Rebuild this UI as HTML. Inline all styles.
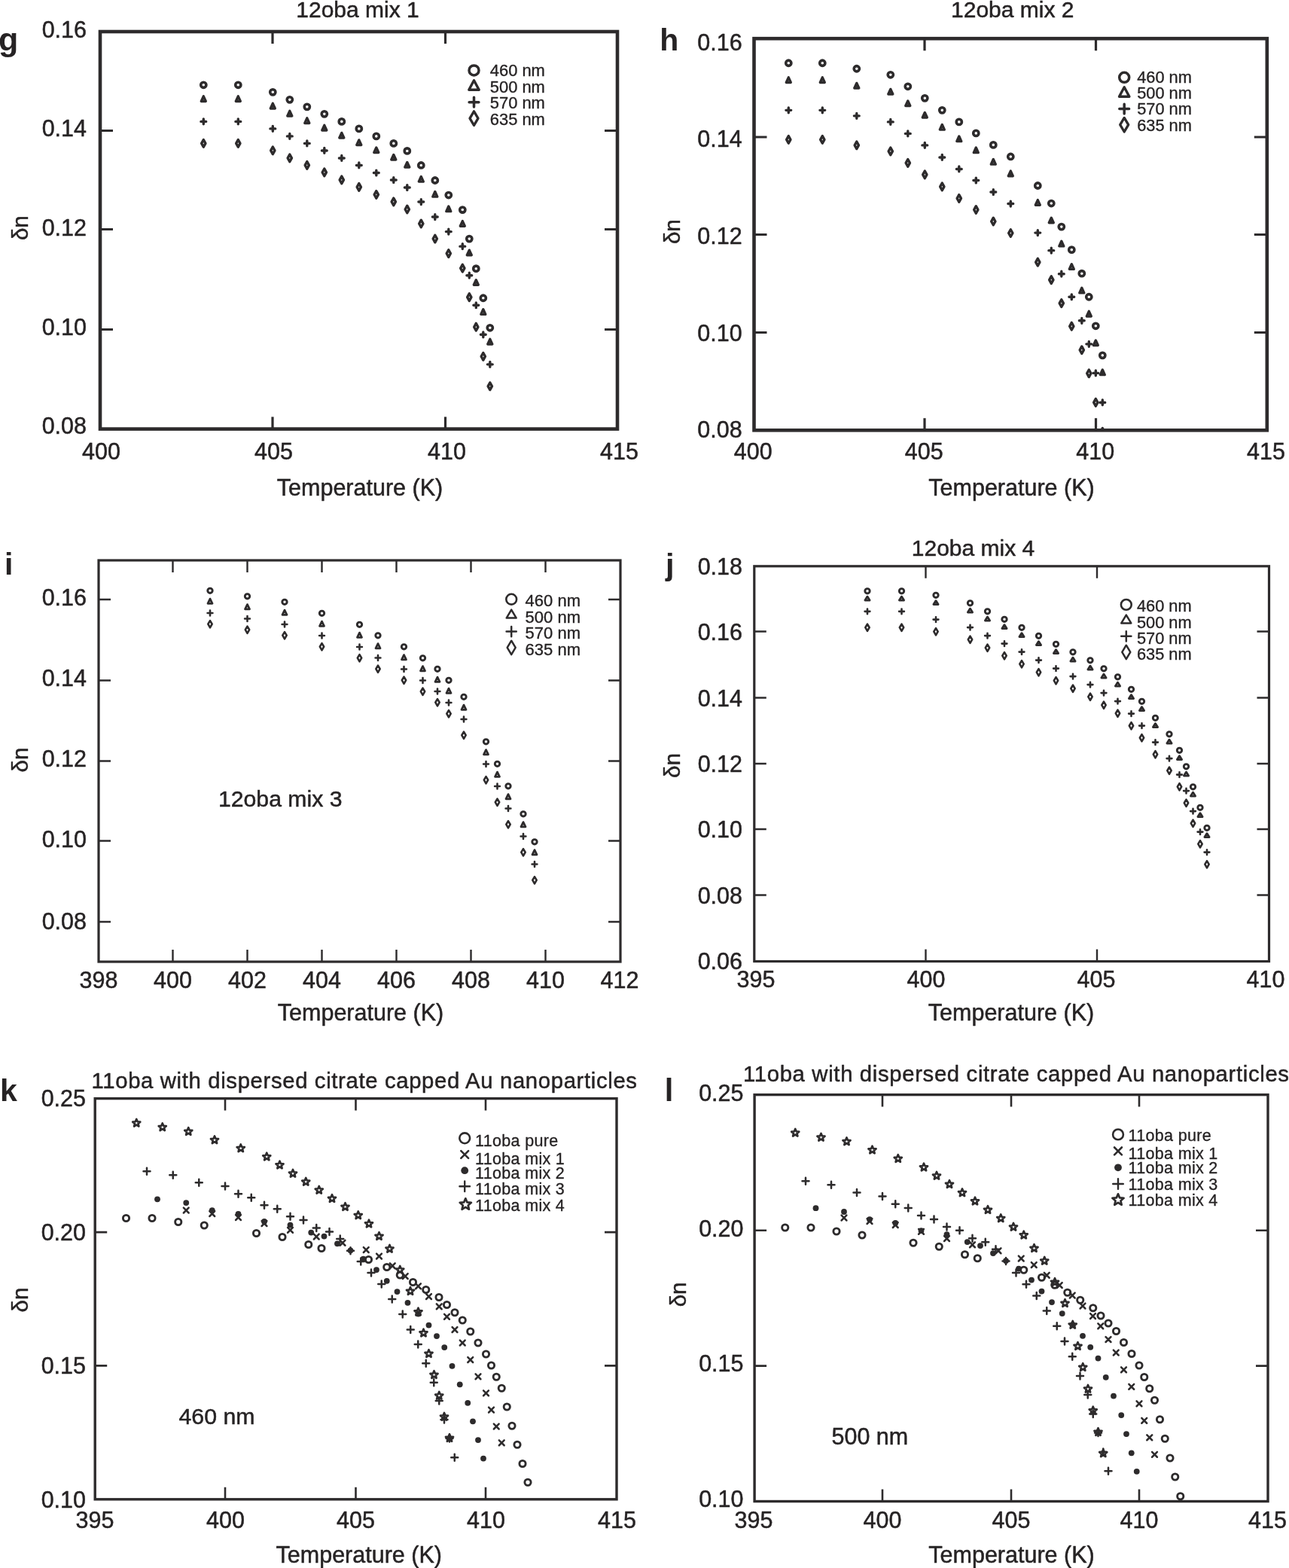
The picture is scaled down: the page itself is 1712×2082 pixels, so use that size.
<!DOCTYPE html>
<html><head><meta charset="utf-8"><title>figure</title>
<style>
html,body{margin:0;padding:0;background:#fff;overflow:hidden;}
svg{display:block;filter:blur(0.45px);}
text{font-family:"Liberation Sans",sans-serif;fill:#262324;stroke:#262324;stroke-width:0;stroke-linejoin:round;}
</style></head>
<body>
<svg width="1712" height="2082" viewBox="0 0 1712 2082">
<rect width="1712" height="2082" fill="#fff"/>
<g fill="none" stroke="#2d2b2c" stroke-linejoin="round" stroke-linecap="round">
<clipPath id="cg"><rect x="133" y="42" width="687" height="527.6"/></clipPath>
<g clip-path="url(#cg)">
<circle cx="270.30" cy="112.80" r="3.6" stroke-width="3.6"/>
<path d="M267.30 134.43L270.30 127.83L273.30 134.43Z" stroke-width="3.4"/>
<path d="M266.90 161.38H273.70M270.30 157.98V164.78" stroke-width="3.4"/>
<path d="M270.30 185.52L272.95 190.32L270.30 195.12L267.65 190.32Z" stroke-width="3.4"/>
<circle cx="316.30" cy="112.80" r="3.6" stroke-width="3.6"/>
<path d="M313.30 134.43L316.30 127.83L319.30 134.43Z" stroke-width="3.4"/>
<path d="M312.90 161.38H319.70M316.30 157.98V164.78" stroke-width="3.4"/>
<path d="M316.30 185.52L318.95 190.32L316.30 195.12L313.65 190.32Z" stroke-width="3.4"/>
<circle cx="362.30" cy="122.31" r="3.6" stroke-width="3.6"/>
<path d="M359.30 143.94L362.30 137.34L365.30 143.94Z" stroke-width="3.4"/>
<path d="M358.90 170.89H365.70M362.30 167.49V174.29" stroke-width="3.4"/>
<path d="M362.30 195.03L364.95 199.83L362.30 204.63L359.65 199.83Z" stroke-width="3.4"/>
<circle cx="384.80" cy="132.33" r="3.6" stroke-width="3.6"/>
<path d="M381.80 153.96L384.80 147.36L387.80 153.96Z" stroke-width="3.4"/>
<path d="M381.40 180.91H388.20M384.80 177.51V184.31" stroke-width="3.4"/>
<path d="M384.80 205.05L387.45 209.85L384.80 214.65L382.15 209.85Z" stroke-width="3.4"/>
<circle cx="407.80" cy="141.84" r="3.6" stroke-width="3.6"/>
<path d="M404.80 163.47L407.80 156.87L410.80 163.47Z" stroke-width="3.4"/>
<path d="M404.40 190.42H411.20M407.80 187.02V193.82" stroke-width="3.4"/>
<path d="M407.80 214.57L410.45 219.37L407.80 224.17L405.15 219.37Z" stroke-width="3.4"/>
<circle cx="430.80" cy="151.36" r="3.6" stroke-width="3.6"/>
<path d="M427.80 172.99L430.80 166.39L433.80 172.99Z" stroke-width="3.4"/>
<path d="M427.40 199.93H434.20M430.80 196.53V203.33" stroke-width="3.4"/>
<path d="M430.80 224.08L433.45 228.88L430.80 233.68L428.15 228.88Z" stroke-width="3.4"/>
<circle cx="453.80" cy="161.38" r="3.6" stroke-width="3.6"/>
<path d="M450.80 183.00L453.80 176.40L456.80 183.00Z" stroke-width="3.4"/>
<path d="M450.40 209.95H457.20M453.80 206.55V213.35" stroke-width="3.4"/>
<path d="M453.80 234.10L456.45 238.90L453.80 243.70L451.15 238.90Z" stroke-width="3.4"/>
<circle cx="476.80" cy="170.89" r="3.6" stroke-width="3.6"/>
<path d="M473.80 192.52L476.80 185.92L479.80 192.52Z" stroke-width="3.4"/>
<path d="M473.40 219.47H480.20M476.80 216.07V222.87" stroke-width="3.4"/>
<path d="M476.80 243.61L479.45 248.41L476.80 253.21L474.15 248.41Z" stroke-width="3.4"/>
<circle cx="499.80" cy="180.91" r="3.6" stroke-width="3.6"/>
<path d="M496.80 202.53L499.80 195.93L502.80 202.53Z" stroke-width="3.4"/>
<path d="M496.40 229.48H503.20M499.80 226.08V232.88" stroke-width="3.4"/>
<path d="M499.80 253.63L502.45 258.43L499.80 263.23L497.15 258.43Z" stroke-width="3.4"/>
<circle cx="522.80" cy="190.42" r="3.6" stroke-width="3.6"/>
<path d="M519.80 212.05L522.80 205.45L525.80 212.05Z" stroke-width="3.4"/>
<path d="M519.40 239.00H526.20M522.80 235.60V242.40" stroke-width="3.4"/>
<path d="M522.80 263.14L525.45 267.94L522.80 272.74L520.15 267.94Z" stroke-width="3.4"/>
<circle cx="540.80" cy="200.44" r="3.6" stroke-width="3.6"/>
<path d="M537.80 222.07L540.80 215.47L543.80 222.07Z" stroke-width="3.4"/>
<path d="M537.40 249.01H544.20M540.80 245.61V252.41" stroke-width="3.4"/>
<path d="M540.80 273.16L543.45 277.96L540.80 282.76L538.15 277.96Z" stroke-width="3.4"/>
<circle cx="559.30" cy="219.47" r="3.6" stroke-width="3.6"/>
<path d="M556.30 241.09L559.30 234.49L562.30 241.09Z" stroke-width="3.4"/>
<path d="M555.90 268.04H562.70M559.30 264.64V271.44" stroke-width="3.4"/>
<path d="M559.30 292.19L561.95 296.99L559.30 301.79L556.65 296.99Z" stroke-width="3.4"/>
<circle cx="577.80" cy="239.50" r="3.6" stroke-width="3.6"/>
<path d="M574.80 261.13L577.80 254.53L580.80 261.13Z" stroke-width="3.4"/>
<path d="M574.40 288.07H581.20M577.80 284.67V291.47" stroke-width="3.4"/>
<path d="M577.80 312.22L580.45 317.02L577.80 321.82L575.15 317.02Z" stroke-width="3.4"/>
<circle cx="595.80" cy="259.03" r="3.6" stroke-width="3.6"/>
<path d="M592.80 280.66L595.80 274.06L598.80 280.66Z" stroke-width="3.4"/>
<path d="M592.40 307.60H599.20M595.80 304.20V311.00" stroke-width="3.4"/>
<path d="M595.80 331.75L598.45 336.55L595.80 341.35L593.15 336.55Z" stroke-width="3.4"/>
<circle cx="614.30" cy="278.56" r="3.6" stroke-width="3.6"/>
<path d="M611.30 300.19L614.30 293.59L617.30 300.19Z" stroke-width="3.4"/>
<path d="M610.90 327.13H617.70M614.30 323.73V330.53" stroke-width="3.4"/>
<path d="M614.30 351.28L616.95 356.08L614.30 360.88L611.65 356.08Z" stroke-width="3.4"/>
<circle cx="623.30" cy="317.12" r="3.6" stroke-width="3.6"/>
<path d="M620.30 338.75L623.30 332.15L626.30 338.75Z" stroke-width="3.4"/>
<path d="M619.90 365.69H626.70M623.30 362.29V369.09" stroke-width="3.4"/>
<path d="M623.30 389.84L625.95 394.64L623.30 399.44L620.65 394.64Z" stroke-width="3.4"/>
<circle cx="632.30" cy="356.68" r="3.6" stroke-width="3.6"/>
<path d="M629.30 378.31L632.30 371.71L635.30 378.31Z" stroke-width="3.4"/>
<path d="M628.90 405.25H635.70M632.30 401.85V408.65" stroke-width="3.4"/>
<path d="M632.30 429.40L634.95 434.20L632.30 439.00L629.65 434.20Z" stroke-width="3.4"/>
<circle cx="641.80" cy="395.74" r="3.6" stroke-width="3.6"/>
<path d="M638.80 417.37L641.80 410.77L644.80 417.37Z" stroke-width="3.4"/>
<path d="M638.40 444.31H645.20M641.80 440.91V447.71" stroke-width="3.4"/>
<path d="M641.80 468.46L644.45 473.26L641.80 478.06L639.15 473.26Z" stroke-width="3.4"/>
<circle cx="650.80" cy="435.30" r="3.6" stroke-width="3.6"/>
<path d="M647.80 456.93L650.80 450.33L653.80 456.93Z" stroke-width="3.4"/>
<path d="M647.40 483.87H654.20M650.80 480.47V487.27" stroke-width="3.4"/>
<path d="M650.80 508.02L653.45 512.82L650.80 517.62L648.15 512.82Z" stroke-width="3.4"/>
</g>
<rect x="133" y="42" width="687" height="527.6" stroke-width="4.6" stroke-linejoin="miter"/>
<path d="M362 42v16M362 569.6v-16M591.5 42v16M591.5 569.6v-16M133 173.5h17M820 173.5h-17M133 304.5h17M820 304.5h-17M133 437.5h17M820 437.5h-17" stroke-width="3.2" stroke-linecap="butt"/>
<clipPath id="ch"><rect x="1001.5" y="51.2" width="681.3" height="520.0999999999999"/></clipPath>
<g clip-path="url(#ch)">
<circle cx="1047.30" cy="83.76" r="3.6" stroke-width="3.6"/>
<path d="M1044.30 109.49L1047.30 102.89L1050.30 109.49Z" stroke-width="3.4"/>
<path d="M1043.90 146.35H1050.70M1047.30 142.95V149.75" stroke-width="3.4"/>
<path d="M1047.30 180.51L1049.95 185.31L1047.30 190.11L1044.65 185.31Z" stroke-width="3.4"/>
<circle cx="1092.30" cy="83.76" r="3.6" stroke-width="3.6"/>
<path d="M1089.30 109.49L1092.30 102.89L1095.30 109.49Z" stroke-width="3.4"/>
<path d="M1088.90 146.35H1095.70M1092.30 142.95V149.75" stroke-width="3.4"/>
<path d="M1092.30 180.51L1094.95 185.31L1092.30 190.11L1089.65 185.31Z" stroke-width="3.4"/>
<circle cx="1137.80" cy="91.27" r="3.6" stroke-width="3.6"/>
<path d="M1134.80 117.00L1137.80 110.40L1140.80 117.00Z" stroke-width="3.4"/>
<path d="M1134.40 153.86H1141.20M1137.80 150.46V157.26" stroke-width="3.4"/>
<path d="M1137.80 188.02L1140.45 192.82L1137.80 197.62L1135.15 192.82Z" stroke-width="3.4"/>
<circle cx="1182.80" cy="99.28" r="3.6" stroke-width="3.6"/>
<path d="M1179.80 125.01L1182.80 118.41L1185.80 125.01Z" stroke-width="3.4"/>
<path d="M1179.40 161.88H1186.20M1182.80 158.48V165.28" stroke-width="3.4"/>
<path d="M1182.80 196.04L1185.45 200.84L1182.80 205.64L1180.15 200.84Z" stroke-width="3.4"/>
<circle cx="1205.80" cy="114.80" r="3.6" stroke-width="3.6"/>
<path d="M1202.80 140.54L1205.80 133.94L1208.80 140.54Z" stroke-width="3.4"/>
<path d="M1202.40 177.40H1209.20M1205.80 174.00V180.80" stroke-width="3.4"/>
<path d="M1205.80 211.56L1208.45 216.36L1205.80 221.16L1203.15 216.36Z" stroke-width="3.4"/>
<circle cx="1228.30" cy="130.33" r="3.6" stroke-width="3.6"/>
<path d="M1225.30 156.06L1228.30 149.46L1231.30 156.06Z" stroke-width="3.4"/>
<path d="M1224.90 192.92H1231.70M1228.30 189.52V196.32" stroke-width="3.4"/>
<path d="M1228.30 227.08L1230.95 231.88L1228.30 236.68L1225.65 231.88Z" stroke-width="3.4"/>
<circle cx="1251.30" cy="146.35" r="3.6" stroke-width="3.6"/>
<path d="M1248.30 172.09L1251.30 165.49L1254.30 172.09Z" stroke-width="3.4"/>
<path d="M1247.90 208.95H1254.70M1251.30 205.55V212.35" stroke-width="3.4"/>
<path d="M1251.30 243.11L1253.95 247.91L1251.30 252.71L1248.65 247.91Z" stroke-width="3.4"/>
<circle cx="1273.80" cy="161.88" r="3.6" stroke-width="3.6"/>
<path d="M1270.80 187.61L1273.80 181.01L1276.80 187.61Z" stroke-width="3.4"/>
<path d="M1270.40 224.47H1277.20M1273.80 221.07V227.87" stroke-width="3.4"/>
<path d="M1273.80 258.63L1276.45 263.43L1273.80 268.23L1271.15 263.43Z" stroke-width="3.4"/>
<circle cx="1296.30" cy="176.90" r="3.6" stroke-width="3.6"/>
<path d="M1293.30 202.63L1296.30 196.03L1299.30 202.63Z" stroke-width="3.4"/>
<path d="M1292.90 239.50H1299.70M1296.30 236.10V242.90" stroke-width="3.4"/>
<path d="M1296.30 273.66L1298.95 278.46L1296.30 283.26L1293.65 278.46Z" stroke-width="3.4"/>
<circle cx="1319.30" cy="192.42" r="3.6" stroke-width="3.6"/>
<path d="M1316.30 218.16L1319.30 211.56L1322.30 218.16Z" stroke-width="3.4"/>
<path d="M1315.90 255.02H1322.70M1319.30 251.62V258.42" stroke-width="3.4"/>
<path d="M1319.30 289.18L1321.95 293.98L1319.30 298.78L1316.65 293.98Z" stroke-width="3.4"/>
<circle cx="1342.30" cy="207.95" r="3.6" stroke-width="3.6"/>
<path d="M1339.30 233.68L1342.30 227.08L1345.30 233.68Z" stroke-width="3.4"/>
<path d="M1338.90 270.54H1345.70M1342.30 267.14V273.94" stroke-width="3.4"/>
<path d="M1342.30 304.70L1344.95 309.50L1342.30 314.30L1339.65 309.50Z" stroke-width="3.4"/>
<circle cx="1378.30" cy="246.51" r="3.6" stroke-width="3.6"/>
<path d="M1375.30 272.24L1378.30 265.64L1381.30 272.24Z" stroke-width="3.4"/>
<path d="M1374.90 309.10H1381.70M1378.30 305.70V312.50" stroke-width="3.4"/>
<path d="M1378.30 343.26L1380.95 348.06L1378.30 352.86L1375.65 348.06Z" stroke-width="3.4"/>
<circle cx="1396.30" cy="270.04" r="3.6" stroke-width="3.6"/>
<path d="M1393.30 295.78L1396.30 289.18L1399.30 295.78Z" stroke-width="3.4"/>
<path d="M1392.90 332.64H1399.70M1396.30 329.24V336.04" stroke-width="3.4"/>
<path d="M1396.30 366.80L1398.95 371.60L1396.30 376.40L1393.65 371.60Z" stroke-width="3.4"/>
<circle cx="1409.80" cy="301.09" r="3.6" stroke-width="3.6"/>
<path d="M1406.80 326.83L1409.80 320.23L1412.80 326.83Z" stroke-width="3.4"/>
<path d="M1406.40 363.69H1413.20M1409.80 360.29V367.09" stroke-width="3.4"/>
<path d="M1409.80 397.85L1412.45 402.65L1409.80 407.45L1407.15 402.65Z" stroke-width="3.4"/>
<circle cx="1423.30" cy="331.64" r="3.6" stroke-width="3.6"/>
<path d="M1420.30 357.37L1423.30 350.77L1426.30 357.37Z" stroke-width="3.4"/>
<path d="M1419.90 394.24H1426.70M1423.30 390.84V397.64" stroke-width="3.4"/>
<path d="M1423.30 428.40L1425.95 433.20L1423.30 438.00L1420.65 433.20Z" stroke-width="3.4"/>
<circle cx="1436.80" cy="363.19" r="3.6" stroke-width="3.6"/>
<path d="M1433.80 388.92L1436.80 382.32L1439.80 388.92Z" stroke-width="3.4"/>
<path d="M1433.40 425.78H1440.20M1436.80 422.38V429.18" stroke-width="3.4"/>
<path d="M1436.80 459.94L1439.45 464.74L1436.80 469.54L1434.15 464.74Z" stroke-width="3.4"/>
<circle cx="1446.30" cy="394.24" r="3.6" stroke-width="3.6"/>
<path d="M1443.30 419.97L1446.30 413.37L1449.30 419.97Z" stroke-width="3.4"/>
<path d="M1442.90 456.83H1449.70M1446.30 453.43V460.23" stroke-width="3.4"/>
<path d="M1446.30 490.99L1448.95 495.79L1446.30 500.59L1443.65 495.79Z" stroke-width="3.4"/>
<circle cx="1455.30" cy="432.80" r="3.6" stroke-width="3.6"/>
<path d="M1452.30 458.53L1455.30 451.93L1458.30 458.53Z" stroke-width="3.4"/>
<path d="M1451.90 495.39H1458.70M1455.30 491.99V498.79" stroke-width="3.4"/>
<path d="M1455.30 529.55L1457.95 534.35L1455.30 539.15L1452.65 534.35Z" stroke-width="3.4"/>
<circle cx="1464.30" cy="471.86" r="3.6" stroke-width="3.6"/>
<path d="M1461.30 497.59L1464.30 490.99L1467.30 497.59Z" stroke-width="3.4"/>
<path d="M1460.90 534.45H1467.70M1464.30 531.05V537.85" stroke-width="3.4"/>
<path d="M1464.30 568.61L1466.95 573.41L1464.30 578.21L1461.65 573.41Z" stroke-width="3.4"/>
</g>
<rect x="1001.5" y="51.2" width="681.3" height="520.0999999999999" stroke-width="4.6" stroke-linejoin="miter"/>
<path d="M1228.0 51.2v16M1228.0 571.3v-16M1455.5 51.2v16M1455.5 571.3v-16M1001.5 182h17M1682.8 182h-17M1001.5 311.5h17M1682.8 311.5h-17M1001.5 441.5h17M1682.8 441.5h-17" stroke-width="3.2" stroke-linecap="butt"/>
<circle cx="279.00" cy="784.30" r="3.2" stroke-width="2.9"/>
<path d="M276.00 801.30L279.00 795.10L282.00 801.30Z" stroke-width="2.8"/>
<path d="M275.60 814.00H282.40M279.00 810.60V817.40" stroke-width="2.6"/>
<path d="M279.00 824.10L281.70 828.70L279.00 833.30L276.30 828.70Z" stroke-width="2.6"/>
<circle cx="328.50" cy="791.80" r="3.2" stroke-width="2.9"/>
<path d="M325.50 808.80L328.50 802.60L331.50 808.80Z" stroke-width="2.8"/>
<path d="M325.10 821.50H331.90M328.50 818.10V824.90" stroke-width="2.6"/>
<path d="M328.50 831.60L331.20 836.20L328.50 840.80L325.80 836.20Z" stroke-width="2.6"/>
<circle cx="378.00" cy="799.30" r="3.2" stroke-width="2.9"/>
<path d="M375.00 816.30L378.00 810.10L381.00 816.30Z" stroke-width="2.8"/>
<path d="M374.60 829.00H381.40M378.00 825.60V832.40" stroke-width="2.6"/>
<path d="M378.00 839.10L380.70 843.70L378.00 848.30L375.30 843.70Z" stroke-width="2.6"/>
<circle cx="427.50" cy="814.30" r="3.2" stroke-width="2.9"/>
<path d="M424.50 831.30L427.50 825.10L430.50 831.30Z" stroke-width="2.8"/>
<path d="M424.10 844.00H430.90M427.50 840.60V847.40" stroke-width="2.6"/>
<path d="M427.50 854.10L430.20 858.70L427.50 863.30L424.80 858.70Z" stroke-width="2.6"/>
<circle cx="477.50" cy="829.30" r="3.2" stroke-width="2.9"/>
<path d="M474.50 846.30L477.50 840.10L480.50 846.30Z" stroke-width="2.8"/>
<path d="M474.10 859.00H480.90M477.50 855.60V862.40" stroke-width="2.6"/>
<path d="M477.50 869.10L480.20 873.70L477.50 878.30L474.80 873.70Z" stroke-width="2.6"/>
<circle cx="502.00" cy="843.80" r="3.2" stroke-width="2.9"/>
<path d="M499.00 860.80L502.00 854.60L505.00 860.80Z" stroke-width="2.8"/>
<path d="M498.60 873.50H505.40M502.00 870.10V876.90" stroke-width="2.6"/>
<path d="M502.00 883.60L504.70 888.20L502.00 892.80L499.30 888.20Z" stroke-width="2.6"/>
<circle cx="536.50" cy="858.80" r="3.2" stroke-width="2.9"/>
<path d="M533.50 875.80L536.50 869.60L539.50 875.80Z" stroke-width="2.8"/>
<path d="M533.10 888.50H539.90M536.50 885.10V891.90" stroke-width="2.6"/>
<path d="M536.50 898.60L539.20 903.20L536.50 907.80L533.80 903.20Z" stroke-width="2.6"/>
<circle cx="561.50" cy="873.80" r="3.2" stroke-width="2.9"/>
<path d="M558.50 890.80L561.50 884.60L564.50 890.80Z" stroke-width="2.8"/>
<path d="M558.10 903.50H564.90M561.50 900.10V906.90" stroke-width="2.6"/>
<path d="M561.50 913.60L564.20 918.20L561.50 922.80L558.80 918.20Z" stroke-width="2.6"/>
<circle cx="581.00" cy="888.30" r="3.2" stroke-width="2.9"/>
<path d="M578.00 905.30L581.00 899.10L584.00 905.30Z" stroke-width="2.8"/>
<path d="M577.60 918.00H584.40M581.00 914.60V921.40" stroke-width="2.6"/>
<path d="M581.00 928.10L583.70 932.70L581.00 937.30L578.30 932.70Z" stroke-width="2.6"/>
<circle cx="596.00" cy="903.30" r="3.2" stroke-width="2.9"/>
<path d="M593.00 920.30L596.00 914.10L599.00 920.30Z" stroke-width="2.8"/>
<path d="M592.60 933.00H599.40M596.00 929.60V936.40" stroke-width="2.6"/>
<path d="M596.00 943.10L598.70 947.70L596.00 952.30L593.30 947.70Z" stroke-width="2.6"/>
<circle cx="616.00" cy="925.30" r="3.2" stroke-width="2.9"/>
<path d="M613.00 942.30L616.00 936.10L619.00 942.30Z" stroke-width="2.8"/>
<path d="M612.60 955.00H619.40M616.00 951.60V958.40" stroke-width="2.6"/>
<path d="M616.00 971.60L618.70 976.20L616.00 980.80L613.30 976.20Z" stroke-width="2.6"/>
<circle cx="645.50" cy="984.80" r="3.2" stroke-width="2.9"/>
<path d="M642.50 1001.80L645.50 995.60L648.50 1001.80Z" stroke-width="2.8"/>
<path d="M642.10 1014.50H648.90M645.50 1011.10V1017.90" stroke-width="2.6"/>
<path d="M645.50 1031.10L648.20 1035.70L645.50 1040.30L642.80 1035.70Z" stroke-width="2.6"/>
<circle cx="660.50" cy="1014.30" r="3.2" stroke-width="2.9"/>
<path d="M657.50 1031.30L660.50 1025.10L663.50 1031.30Z" stroke-width="2.8"/>
<path d="M657.10 1044.00H663.90M660.50 1040.60V1047.40" stroke-width="2.6"/>
<path d="M660.50 1060.60L663.20 1065.20L660.50 1069.80L657.80 1065.20Z" stroke-width="2.6"/>
<circle cx="675.00" cy="1043.80" r="3.2" stroke-width="2.9"/>
<path d="M672.00 1060.80L675.00 1054.60L678.00 1060.80Z" stroke-width="2.8"/>
<path d="M671.60 1073.50H678.40M675.00 1070.10V1076.90" stroke-width="2.6"/>
<path d="M675.00 1090.10L677.70 1094.70L675.00 1099.30L672.30 1094.70Z" stroke-width="2.6"/>
<circle cx="695.00" cy="1080.80" r="3.2" stroke-width="2.9"/>
<path d="M692.00 1097.80L695.00 1091.60L698.00 1097.80Z" stroke-width="2.8"/>
<path d="M691.60 1110.50H698.40M695.00 1107.10V1113.90" stroke-width="2.6"/>
<path d="M695.00 1127.10L697.70 1131.70L695.00 1136.30L692.30 1131.70Z" stroke-width="2.6"/>
<circle cx="710.00" cy="1117.80" r="3.2" stroke-width="2.9"/>
<path d="M707.00 1134.80L710.00 1128.60L713.00 1134.80Z" stroke-width="2.8"/>
<path d="M706.60 1147.50H713.40M710.00 1144.10V1150.90" stroke-width="2.6"/>
<path d="M710.00 1164.10L712.70 1168.70L710.00 1173.30L707.30 1168.70Z" stroke-width="2.6"/>
<rect x="131" y="744" width="693" height="533" stroke-width="3.2" stroke-linejoin="miter"/>
<path d="M229.5 744v16M229.5 1277v-16M328.5 744v16M328.5 1277v-16M427.5 744v16M427.5 1277v-16M526.5 744v16M526.5 1277v-16M625.5 744v16M625.5 1277v-16M724.5 744v16M724.5 1277v-16M131 796h16M824 796h-16M131 903.5h16M824 903.5h-16M131 1010.5h16M824 1010.5h-16M131 1116.5h16M824 1116.5h-16M131 1224h16M824 1224h-16" stroke-width="2.4" stroke-linecap="butt"/>
<circle cx="1152.00" cy="784.80" r="3.2" stroke-width="2.9"/>
<path d="M1148.90 797.10L1152.00 792.10L1155.10 797.10Z" stroke-width="2.8"/>
<path d="M1148.60 811.85H1155.40M1152.00 808.45V815.25" stroke-width="2.6"/>
<path d="M1152.00 828.60L1154.70 833.20L1152.00 837.80L1149.30 833.20Z" stroke-width="2.6"/>
<circle cx="1197.50" cy="784.80" r="3.2" stroke-width="2.9"/>
<path d="M1194.40 797.10L1197.50 792.10L1200.60 797.10Z" stroke-width="2.8"/>
<path d="M1194.10 811.85H1200.90M1197.50 808.45V815.25" stroke-width="2.6"/>
<path d="M1197.50 828.60L1200.20 833.20L1197.50 837.80L1194.80 833.20Z" stroke-width="2.6"/>
<circle cx="1243.00" cy="790.30" r="3.2" stroke-width="2.9"/>
<path d="M1239.90 802.60L1243.00 797.60L1246.10 802.60Z" stroke-width="2.8"/>
<path d="M1239.60 822.60H1246.40M1243.00 819.20V826.00" stroke-width="2.6"/>
<path d="M1243.00 834.10L1245.70 838.70L1243.00 843.30L1240.30 838.70Z" stroke-width="2.6"/>
<circle cx="1288.50" cy="800.80" r="3.2" stroke-width="2.9"/>
<path d="M1285.40 813.10L1288.50 808.10L1291.60 813.10Z" stroke-width="2.8"/>
<path d="M1285.10 833.10H1291.90M1288.50 829.70V836.50" stroke-width="2.6"/>
<path d="M1288.50 844.60L1291.20 849.20L1288.50 853.80L1285.80 849.20Z" stroke-width="2.6"/>
<circle cx="1311.50" cy="811.80" r="3.2" stroke-width="2.9"/>
<path d="M1308.40 824.10L1311.50 819.10L1314.60 824.10Z" stroke-width="2.8"/>
<path d="M1308.10 844.10H1314.90M1311.50 840.70V847.50" stroke-width="2.6"/>
<path d="M1311.50 855.60L1314.20 860.20L1311.50 864.80L1308.80 860.20Z" stroke-width="2.6"/>
<circle cx="1334.00" cy="822.30" r="3.2" stroke-width="2.9"/>
<path d="M1330.90 834.60L1334.00 829.60L1337.10 834.60Z" stroke-width="2.8"/>
<path d="M1330.60 854.60H1337.40M1334.00 851.20V858.00" stroke-width="2.6"/>
<path d="M1334.00 866.10L1336.70 870.70L1334.00 875.30L1331.30 870.70Z" stroke-width="2.6"/>
<circle cx="1357.00" cy="833.30" r="3.2" stroke-width="2.9"/>
<path d="M1353.90 845.60L1357.00 840.60L1360.10 845.60Z" stroke-width="2.8"/>
<path d="M1353.60 865.60H1360.40M1357.00 862.20V869.00" stroke-width="2.6"/>
<path d="M1357.00 877.10L1359.70 881.70L1357.00 886.30L1354.30 881.70Z" stroke-width="2.6"/>
<circle cx="1379.50" cy="844.30" r="3.2" stroke-width="2.9"/>
<path d="M1376.40 856.60L1379.50 851.60L1382.60 856.60Z" stroke-width="2.8"/>
<path d="M1376.10 876.60H1382.90M1379.50 873.20V880.00" stroke-width="2.6"/>
<path d="M1379.50 888.10L1382.20 892.70L1379.50 897.30L1376.80 892.70Z" stroke-width="2.6"/>
<circle cx="1402.50" cy="855.30" r="3.2" stroke-width="2.9"/>
<path d="M1399.40 867.60L1402.50 862.60L1405.60 867.60Z" stroke-width="2.8"/>
<path d="M1399.10 887.60H1405.90M1402.50 884.20V891.00" stroke-width="2.6"/>
<path d="M1402.50 899.10L1405.20 903.70L1402.50 908.30L1399.80 903.70Z" stroke-width="2.6"/>
<circle cx="1425.00" cy="865.80" r="3.2" stroke-width="2.9"/>
<path d="M1421.90 878.10L1425.00 873.10L1428.10 878.10Z" stroke-width="2.8"/>
<path d="M1421.60 898.10H1428.40M1425.00 894.70V901.50" stroke-width="2.6"/>
<path d="M1425.00 909.60L1427.70 914.20L1425.00 918.80L1422.30 914.20Z" stroke-width="2.6"/>
<circle cx="1448.00" cy="876.80" r="3.2" stroke-width="2.9"/>
<path d="M1444.90 889.10L1448.00 884.10L1451.10 889.10Z" stroke-width="2.8"/>
<path d="M1444.60 909.10H1451.40M1448.00 905.70V912.50" stroke-width="2.6"/>
<path d="M1448.00 920.60L1450.70 925.20L1448.00 929.80L1445.30 925.20Z" stroke-width="2.6"/>
<circle cx="1466.00" cy="887.80" r="3.2" stroke-width="2.9"/>
<path d="M1462.90 900.10L1466.00 895.10L1469.10 900.10Z" stroke-width="2.8"/>
<path d="M1462.60 920.10H1469.40M1466.00 916.70V923.50" stroke-width="2.6"/>
<path d="M1466.00 931.60L1468.70 936.20L1466.00 940.80L1463.30 936.20Z" stroke-width="2.6"/>
<circle cx="1484.50" cy="898.80" r="3.2" stroke-width="2.9"/>
<path d="M1481.40 911.10L1484.50 906.10L1487.60 911.10Z" stroke-width="2.8"/>
<path d="M1481.10 931.10H1487.90M1484.50 927.70V934.50" stroke-width="2.6"/>
<path d="M1484.50 942.60L1487.20 947.20L1484.50 951.80L1481.80 947.20Z" stroke-width="2.6"/>
<circle cx="1502.50" cy="915.30" r="3.2" stroke-width="2.9"/>
<path d="M1499.40 927.60L1502.50 922.60L1505.60 927.60Z" stroke-width="2.8"/>
<path d="M1499.10 947.60H1505.90M1502.50 944.20V951.00" stroke-width="2.6"/>
<path d="M1502.50 959.10L1505.20 963.70L1502.50 968.30L1499.80 963.70Z" stroke-width="2.6"/>
<circle cx="1516.50" cy="931.30" r="3.2" stroke-width="2.9"/>
<path d="M1513.40 943.60L1516.50 938.60L1519.60 943.60Z" stroke-width="2.8"/>
<path d="M1513.10 963.60H1519.90M1516.50 960.20V967.00" stroke-width="2.6"/>
<path d="M1516.50 975.10L1519.20 979.70L1516.50 984.30L1513.80 979.70Z" stroke-width="2.6"/>
<circle cx="1534.50" cy="953.30" r="3.2" stroke-width="2.9"/>
<path d="M1531.40 965.60L1534.50 960.60L1537.60 965.60Z" stroke-width="2.8"/>
<path d="M1531.10 985.60H1537.90M1534.50 982.20V989.00" stroke-width="2.6"/>
<path d="M1534.50 997.10L1537.20 1001.70L1534.50 1006.30L1531.80 1001.70Z" stroke-width="2.6"/>
<circle cx="1553.00" cy="974.80" r="3.2" stroke-width="2.9"/>
<path d="M1549.90 987.10L1553.00 982.10L1556.10 987.10Z" stroke-width="2.8"/>
<path d="M1549.60 1007.10H1556.40M1553.00 1003.70V1010.50" stroke-width="2.6"/>
<path d="M1553.00 1018.60L1555.70 1023.20L1553.00 1027.80L1550.30 1023.20Z" stroke-width="2.6"/>
<circle cx="1566.50" cy="996.30" r="3.2" stroke-width="2.9"/>
<path d="M1563.40 1008.60L1566.50 1003.60L1569.60 1008.60Z" stroke-width="2.8"/>
<path d="M1563.10 1028.60H1569.90M1566.50 1025.20V1032.00" stroke-width="2.6"/>
<path d="M1566.50 1040.10L1569.20 1044.70L1566.50 1049.30L1563.80 1044.70Z" stroke-width="2.6"/>
<circle cx="1575.50" cy="1017.80" r="3.2" stroke-width="2.9"/>
<path d="M1572.40 1030.10L1575.50 1025.10L1578.60 1030.10Z" stroke-width="2.8"/>
<path d="M1572.10 1050.10H1578.90M1575.50 1046.70V1053.50" stroke-width="2.6"/>
<path d="M1575.50 1061.60L1578.20 1066.20L1575.50 1070.80L1572.80 1066.20Z" stroke-width="2.6"/>
<circle cx="1584.50" cy="1044.80" r="3.2" stroke-width="2.9"/>
<path d="M1581.40 1057.10L1584.50 1052.10L1587.60 1057.10Z" stroke-width="2.8"/>
<path d="M1581.10 1077.10H1587.90M1584.50 1073.70V1080.50" stroke-width="2.6"/>
<path d="M1584.50 1088.60L1587.20 1093.20L1584.50 1097.80L1581.80 1093.20Z" stroke-width="2.6"/>
<circle cx="1594.00" cy="1072.30" r="3.2" stroke-width="2.9"/>
<path d="M1590.90 1084.60L1594.00 1079.60L1597.10 1084.60Z" stroke-width="2.8"/>
<path d="M1590.60 1104.60H1597.40M1594.00 1101.20V1108.00" stroke-width="2.6"/>
<path d="M1594.00 1116.10L1596.70 1120.70L1594.00 1125.30L1591.30 1120.70Z" stroke-width="2.6"/>
<circle cx="1603.00" cy="1099.30" r="3.2" stroke-width="2.9"/>
<path d="M1599.90 1111.60L1603.00 1106.60L1606.10 1111.60Z" stroke-width="2.8"/>
<path d="M1599.60 1131.60H1606.40M1603.00 1128.20V1135.00" stroke-width="2.6"/>
<path d="M1603.00 1143.10L1605.70 1147.70L1603.00 1152.30L1600.30 1147.70Z" stroke-width="2.6"/>
<rect x="1001.8" y="751.8" width="683.7" height="524.7" stroke-width="3.2" stroke-linejoin="miter"/>
<path d="M1229.5 751.8v16M1229.5 1276.5v-16M1457 751.8v16M1457 1276.5v-16M1001.8 838.5h16M1685.5 838.5h-16M1001.8 926.5h16M1685.5 926.5h-16M1001.8 1014h16M1685.5 1014h-16M1001.8 1101h16M1685.5 1101h-16M1001.8 1188.5h16M1685.5 1188.5h-16" stroke-width="2.4" stroke-linecap="butt"/>
<circle cx="167.50" cy="1617.50" r="4.1" stroke-width="2.9"/>
<circle cx="202.00" cy="1617.50" r="4.1" stroke-width="2.9"/>
<circle cx="236.75" cy="1622.50" r="4.1" stroke-width="2.9"/>
<circle cx="271.25" cy="1627.00" r="4.1" stroke-width="2.9"/>
<circle cx="340.50" cy="1637.50" r="4.1" stroke-width="2.9"/>
<circle cx="375.00" cy="1642.50" r="4.1" stroke-width="2.9"/>
<circle cx="409.75" cy="1652.50" r="4.1" stroke-width="2.9"/>
<circle cx="427.00" cy="1657.50" r="4.1" stroke-width="2.9"/>
<circle cx="489.50" cy="1672.50" r="4.1" stroke-width="2.9"/>
<circle cx="513.75" cy="1682.50" r="4.1" stroke-width="2.9"/>
<circle cx="531.25" cy="1693.00" r="4.1" stroke-width="2.9"/>
<circle cx="548.50" cy="1702.50" r="4.1" stroke-width="2.9"/>
<circle cx="565.75" cy="1712.50" r="4.1" stroke-width="2.9"/>
<circle cx="583.00" cy="1722.50" r="4.1" stroke-width="2.9"/>
<circle cx="593.50" cy="1732.50" r="4.1" stroke-width="2.9"/>
<circle cx="604.00" cy="1742.75" r="4.1" stroke-width="2.9"/>
<circle cx="614.25" cy="1753.00" r="4.1" stroke-width="2.9"/>
<circle cx="624.75" cy="1768.00" r="4.1" stroke-width="2.9"/>
<circle cx="635.00" cy="1783.00" r="4.1" stroke-width="2.9"/>
<circle cx="645.50" cy="1798.00" r="4.1" stroke-width="2.9"/>
<circle cx="652.50" cy="1813.00" r="4.1" stroke-width="2.9"/>
<circle cx="659.25" cy="1828.25" r="4.1" stroke-width="2.9"/>
<circle cx="666.25" cy="1843.25" r="4.1" stroke-width="2.9"/>
<circle cx="673.25" cy="1868.00" r="4.1" stroke-width="2.9"/>
<circle cx="680.00" cy="1893.25" r="4.1" stroke-width="2.9"/>
<circle cx="687.00" cy="1918.25" r="4.1" stroke-width="2.9"/>
<circle cx="694.00" cy="1943.50" r="4.1" stroke-width="2.9"/>
<circle cx="701.00" cy="1968.25" r="4.1" stroke-width="2.9"/>
<path d="M243.85 1603.70L250.65 1610.50M243.85 1610.50L250.65 1603.70" stroke-width="2.5"/>
<path d="M278.35 1608.20L285.15 1615.00M278.35 1615.00L285.15 1608.20" stroke-width="2.5"/>
<path d="M313.10 1613.20L319.90 1620.00M313.10 1620.00L319.90 1613.20" stroke-width="2.5"/>
<path d="M347.60 1621.20L354.40 1628.00M347.60 1628.00L354.40 1621.20" stroke-width="2.5"/>
<path d="M382.10 1629.95L388.90 1636.75M382.10 1636.75L388.90 1629.95" stroke-width="2.5"/>
<path d="M416.85 1638.70L423.65 1645.50M416.85 1645.50L423.65 1638.70" stroke-width="2.5"/>
<path d="M451.60 1646.95L458.40 1653.75M451.60 1653.75L458.40 1646.95" stroke-width="2.5"/>
<path d="M482.85 1656.20L489.65 1663.00M482.85 1663.00L489.65 1656.20" stroke-width="2.5"/>
<path d="M500.10 1664.70L506.90 1671.50M500.10 1671.50L506.90 1664.70" stroke-width="2.5"/>
<path d="M517.85 1677.45L524.65 1684.25M517.85 1684.25L524.65 1677.45" stroke-width="2.5"/>
<path d="M534.85 1691.20L541.65 1698.00M534.85 1698.00L541.65 1691.20" stroke-width="2.5"/>
<path d="M552.10 1704.45L558.90 1711.25M552.10 1711.25L558.90 1704.45" stroke-width="2.5"/>
<path d="M566.10 1718.20L572.90 1725.00M566.10 1725.00L572.90 1718.20" stroke-width="2.5"/>
<path d="M579.85 1731.45L586.65 1738.25M579.85 1738.25L586.65 1731.45" stroke-width="2.5"/>
<path d="M590.10 1744.95L596.90 1751.75M590.10 1751.75L596.90 1744.95" stroke-width="2.5"/>
<path d="M600.60 1762.20L607.40 1769.00M600.60 1769.00L607.40 1762.20" stroke-width="2.5"/>
<path d="M610.85 1779.70L617.65 1786.50M610.85 1786.50L617.65 1779.70" stroke-width="2.5"/>
<path d="M621.35 1802.20L628.15 1809.00M621.35 1809.00L628.15 1802.20" stroke-width="2.5"/>
<path d="M631.60 1824.45L638.40 1831.25M631.60 1831.25L638.40 1824.45" stroke-width="2.5"/>
<path d="M642.10 1846.45L648.90 1853.25M642.10 1853.25L648.90 1846.45" stroke-width="2.5"/>
<path d="M649.10 1868.70L655.90 1875.50M649.10 1875.50L655.90 1868.70" stroke-width="2.5"/>
<path d="M655.85 1890.70L662.65 1897.50M655.85 1897.50L662.65 1890.70" stroke-width="2.5"/>
<path d="M662.85 1912.45L669.65 1919.25M662.85 1919.25L669.65 1912.45" stroke-width="2.5"/>
<circle cx="209.00" cy="1592.35" r="3.9" fill="#2d2b2c" stroke="none"/>
<circle cx="247.25" cy="1597.10" r="3.9" fill="#2d2b2c" stroke="none"/>
<circle cx="281.75" cy="1607.20" r="3.9" fill="#2d2b2c" stroke="none"/>
<circle cx="316.50" cy="1611.90" r="3.9" fill="#2d2b2c" stroke="none"/>
<circle cx="351.00" cy="1621.90" r="3.9" fill="#2d2b2c" stroke="none"/>
<circle cx="385.50" cy="1626.60" r="3.9" fill="#2d2b2c" stroke="none"/>
<circle cx="413.25" cy="1636.60" r="3.9" fill="#2d2b2c" stroke="none"/>
<circle cx="430.50" cy="1641.60" r="3.9" fill="#2d2b2c" stroke="none"/>
<circle cx="448.00" cy="1651.35" r="3.9" fill="#2d2b2c" stroke="none"/>
<circle cx="465.50" cy="1660.35" r="3.9" fill="#2d2b2c" stroke="none"/>
<circle cx="482.50" cy="1671.60" r="3.9" fill="#2d2b2c" stroke="none"/>
<circle cx="500.00" cy="1686.10" r="3.9" fill="#2d2b2c" stroke="none"/>
<circle cx="513.75" cy="1700.85" r="3.9" fill="#2d2b2c" stroke="none"/>
<circle cx="527.50" cy="1715.10" r="3.9" fill="#2d2b2c" stroke="none"/>
<circle cx="541.50" cy="1729.85" r="3.9" fill="#2d2b2c" stroke="none"/>
<circle cx="555.50" cy="1744.60" r="3.9" fill="#2d2b2c" stroke="none"/>
<circle cx="569.50" cy="1759.60" r="3.9" fill="#2d2b2c" stroke="none"/>
<circle cx="580.00" cy="1774.10" r="3.9" fill="#2d2b2c" stroke="none"/>
<circle cx="590.25" cy="1789.10" r="3.9" fill="#2d2b2c" stroke="none"/>
<circle cx="600.50" cy="1813.85" r="3.9" fill="#2d2b2c" stroke="none"/>
<circle cx="610.75" cy="1838.35" r="3.9" fill="#2d2b2c" stroke="none"/>
<circle cx="621.25" cy="1862.85" r="3.9" fill="#2d2b2c" stroke="none"/>
<circle cx="628.00" cy="1887.35" r="3.9" fill="#2d2b2c" stroke="none"/>
<circle cx="635.00" cy="1912.10" r="3.9" fill="#2d2b2c" stroke="none"/>
<circle cx="642.00" cy="1936.60" r="3.9" fill="#2d2b2c" stroke="none"/>
<path d="M190.50 1555.25H199.50M195.00 1550.75V1559.75" stroke-width="2.5"/>
<path d="M225.25 1560.25H234.25M229.75 1555.75V1564.75" stroke-width="2.5"/>
<path d="M259.75 1570.25H268.75M264.25 1565.75V1574.75" stroke-width="2.5"/>
<path d="M294.50 1575.00H303.50M299.00 1570.50V1579.50" stroke-width="2.5"/>
<path d="M312.00 1585.25H321.00M316.50 1580.75V1589.75" stroke-width="2.5"/>
<path d="M329.25 1590.25H338.25M333.75 1585.75V1594.75" stroke-width="2.5"/>
<path d="M346.50 1600.25H355.50M351.00 1595.75V1604.75" stroke-width="2.5"/>
<path d="M363.75 1605.25H372.75M368.25 1600.75V1609.75" stroke-width="2.5"/>
<path d="M381.00 1615.25H390.00M385.50 1610.75V1619.75" stroke-width="2.5"/>
<path d="M398.50 1620.00H407.50M403.00 1615.50V1624.50" stroke-width="2.5"/>
<path d="M415.75 1630.50H424.75M420.25 1626.00V1635.00" stroke-width="2.5"/>
<path d="M433.00 1635.50H442.00M437.50 1631.00V1640.00" stroke-width="2.5"/>
<path d="M447.25 1645.00H456.25M451.75 1640.50V1649.50" stroke-width="2.5"/>
<path d="M461.00 1660.75H470.00M465.50 1656.25V1665.25" stroke-width="2.5"/>
<path d="M474.75 1675.00H483.75M479.25 1670.50V1679.50" stroke-width="2.5"/>
<path d="M488.50 1690.00H497.50M493.00 1685.50V1694.50" stroke-width="2.5"/>
<path d="M502.25 1705.00H511.25M506.75 1700.50V1709.50" stroke-width="2.5"/>
<path d="M516.25 1725.00H525.25M520.75 1720.50V1729.50" stroke-width="2.5"/>
<path d="M530.25 1745.00H539.25M534.75 1740.50V1749.50" stroke-width="2.5"/>
<path d="M540.75 1765.50H549.75M545.25 1761.00V1770.00" stroke-width="2.5"/>
<path d="M550.75 1785.00H559.75M555.25 1780.50V1789.50" stroke-width="2.5"/>
<path d="M561.25 1810.25H570.25M565.75 1805.75V1814.75" stroke-width="2.5"/>
<path d="M571.75 1835.75H580.75M576.25 1831.25V1840.25" stroke-width="2.5"/>
<path d="M578.75 1860.00H587.75M583.25 1855.50V1864.50" stroke-width="2.5"/>
<path d="M585.50 1885.00H594.50M590.00 1880.50V1889.50" stroke-width="2.5"/>
<path d="M592.50 1910.00H601.50M597.00 1905.50V1914.50" stroke-width="2.5"/>
<path d="M599.25 1935.25H608.25M603.75 1930.75V1939.75" stroke-width="2.5"/>
<path d="M181.25 1485.95L182.65 1489.32L186.29 1489.61L183.52 1491.99L184.37 1495.54L181.25 1493.63L178.13 1495.54L178.98 1491.99L176.21 1489.61L179.85 1489.32Z" stroke-width="2.7"/>
<path d="M215.75 1491.45L217.15 1494.82L220.79 1495.11L218.02 1497.49L218.87 1501.04L215.75 1499.13L212.63 1501.04L213.48 1497.49L210.71 1495.11L214.35 1494.82Z" stroke-width="2.7"/>
<path d="M250.25 1497.20L251.65 1500.57L255.29 1500.86L252.52 1503.24L253.37 1506.79L250.25 1504.88L247.13 1506.79L247.98 1503.24L245.21 1500.86L248.85 1500.57Z" stroke-width="2.7"/>
<path d="M285.00 1508.45L286.40 1511.82L290.04 1512.11L287.27 1514.49L288.12 1518.04L285.00 1516.13L281.88 1518.04L282.73 1514.49L279.96 1512.11L283.60 1511.82Z" stroke-width="2.7"/>
<path d="M319.75 1519.45L321.15 1522.82L324.79 1523.11L322.02 1525.49L322.87 1529.04L319.75 1527.13L316.63 1529.04L317.48 1525.49L314.71 1523.11L318.35 1522.82Z" stroke-width="2.7"/>
<path d="M354.25 1530.70L355.65 1534.07L359.29 1534.36L356.52 1536.74L357.37 1540.29L354.25 1538.38L351.13 1540.29L351.98 1536.74L349.21 1534.36L352.85 1534.07Z" stroke-width="2.7"/>
<path d="M371.50 1541.70L372.90 1545.07L376.54 1545.36L373.77 1547.74L374.62 1551.29L371.50 1549.38L368.38 1551.29L369.23 1547.74L366.46 1545.36L370.10 1545.07Z" stroke-width="2.7"/>
<path d="M389.00 1552.95L390.40 1556.32L394.04 1556.61L391.27 1558.99L392.12 1562.54L389.00 1560.63L385.88 1562.54L386.73 1558.99L383.96 1556.61L387.60 1556.32Z" stroke-width="2.7"/>
<path d="M406.25 1563.95L407.65 1567.32L411.29 1567.61L408.52 1569.99L409.37 1573.54L406.25 1571.63L403.13 1573.54L403.98 1569.99L401.21 1567.61L404.85 1567.32Z" stroke-width="2.7"/>
<path d="M423.75 1574.95L425.15 1578.32L428.79 1578.61L426.02 1580.99L426.87 1584.54L423.75 1582.63L420.63 1584.54L421.48 1580.99L418.71 1578.61L422.35 1578.32Z" stroke-width="2.7"/>
<path d="M441.00 1586.20L442.40 1589.57L446.04 1589.86L443.27 1592.24L444.12 1595.79L441.00 1593.88L437.88 1595.79L438.73 1592.24L435.96 1589.86L439.60 1589.57Z" stroke-width="2.7"/>
<path d="M458.50 1597.20L459.90 1600.57L463.54 1600.86L460.77 1603.24L461.62 1606.79L458.50 1604.88L455.38 1606.79L456.23 1603.24L453.46 1600.86L457.10 1600.57Z" stroke-width="2.7"/>
<path d="M475.75 1608.45L477.15 1611.82L480.79 1612.11L478.02 1614.49L478.87 1618.04L475.75 1616.13L472.63 1618.04L473.48 1614.49L470.71 1612.11L474.35 1611.82Z" stroke-width="2.7"/>
<path d="M490.00 1619.70L491.40 1623.07L495.04 1623.36L492.27 1625.74L493.12 1629.29L490.00 1627.38L486.88 1629.29L487.73 1625.74L484.96 1623.36L488.60 1623.07Z" stroke-width="2.7"/>
<path d="M503.50 1636.20L504.90 1639.57L508.54 1639.86L505.77 1642.24L506.62 1645.79L503.50 1643.88L500.38 1645.79L501.23 1642.24L498.46 1639.86L502.10 1639.57Z" stroke-width="2.7"/>
<path d="M517.50 1652.95L518.90 1656.32L522.54 1656.61L519.77 1658.99L520.62 1662.54L517.50 1660.63L514.38 1662.54L515.23 1658.99L512.46 1656.61L516.10 1656.32Z" stroke-width="2.7"/>
<path d="M531.25 1680.95L532.65 1684.32L536.29 1684.61L533.52 1686.99L534.37 1690.54L531.25 1688.63L528.13 1690.54L528.98 1686.99L526.21 1684.61L529.85 1684.32Z" stroke-width="2.7"/>
<path d="M545.00 1709.20L546.40 1712.57L550.04 1712.86L547.27 1715.24L548.12 1718.79L545.00 1716.88L541.88 1718.79L542.73 1715.24L539.96 1712.86L543.60 1712.57Z" stroke-width="2.7"/>
<path d="M555.50 1736.70L556.90 1740.07L560.54 1740.36L557.77 1742.74L558.62 1746.29L555.50 1744.38L552.38 1746.29L553.23 1742.74L550.46 1740.36L554.10 1740.07Z" stroke-width="2.7"/>
<path d="M562.50 1764.70L563.90 1768.07L567.54 1768.36L564.77 1770.74L565.62 1774.29L562.50 1772.38L559.38 1774.29L560.23 1770.74L557.46 1768.36L561.10 1768.07Z" stroke-width="2.7"/>
<path d="M569.50 1792.20L570.90 1795.57L574.54 1795.86L571.77 1798.24L572.62 1801.79L569.50 1799.88L566.38 1801.79L567.23 1798.24L564.46 1795.86L568.10 1795.57Z" stroke-width="2.7"/>
<path d="M576.50 1820.20L577.90 1823.57L581.54 1823.86L578.77 1826.24L579.62 1829.79L576.50 1827.88L573.38 1829.79L574.23 1826.24L571.46 1823.86L575.10 1823.57Z" stroke-width="2.7"/>
<path d="M583.25 1847.95L584.65 1851.32L588.29 1851.61L585.52 1853.99L586.37 1857.54L583.25 1855.63L580.13 1857.54L580.98 1853.99L578.21 1851.61L581.85 1851.32Z" stroke-width="2.7"/>
<path d="M590.00 1875.95L591.40 1879.32L595.04 1879.61L592.27 1881.99L593.12 1885.54L590.00 1883.63L586.88 1885.54L587.73 1881.99L584.96 1879.61L588.60 1879.32Z" stroke-width="2.7"/>
<path d="M597.00 1904.20L598.40 1907.57L602.04 1907.86L599.27 1910.24L600.12 1913.79L597.00 1911.88L593.88 1913.79L594.73 1910.24L591.96 1907.86L595.60 1907.57Z" stroke-width="2.7"/>
<rect x="126.2" y="1458.6" width="692.8" height="532.2" stroke-width="3.4" stroke-linejoin="miter"/>
<path d="M299 1458.6v16M299 1990.8v-16M472.5 1458.6v16M472.5 1990.8v-16M645 1458.6v16M645 1990.8v-16M126.2 1636.1h16M819 1636.1h-16M126.2 1813.4h16M819 1813.4h-16" stroke-width="2.6" stroke-linecap="butt"/>
<circle cx="1042.75" cy="1630.00" r="4.1" stroke-width="2.9"/>
<circle cx="1077.00" cy="1630.00" r="4.1" stroke-width="2.9"/>
<circle cx="1111.00" cy="1635.00" r="4.1" stroke-width="2.9"/>
<circle cx="1145.00" cy="1640.00" r="4.1" stroke-width="2.9"/>
<circle cx="1213.00" cy="1650.25" r="4.1" stroke-width="2.9"/>
<circle cx="1247.25" cy="1655.25" r="4.1" stroke-width="2.9"/>
<circle cx="1281.50" cy="1665.75" r="4.1" stroke-width="2.9"/>
<circle cx="1298.25" cy="1670.75" r="4.1" stroke-width="2.9"/>
<circle cx="1359.75" cy="1686.25" r="4.1" stroke-width="2.9"/>
<circle cx="1383.50" cy="1696.25" r="4.1" stroke-width="2.9"/>
<circle cx="1400.75" cy="1706.25" r="4.1" stroke-width="2.9"/>
<circle cx="1417.75" cy="1716.25" r="4.1" stroke-width="2.9"/>
<circle cx="1434.75" cy="1726.25" r="4.1" stroke-width="2.9"/>
<circle cx="1451.75" cy="1736.75" r="4.1" stroke-width="2.9"/>
<circle cx="1462.00" cy="1747.00" r="4.1" stroke-width="2.9"/>
<circle cx="1472.00" cy="1757.00" r="4.1" stroke-width="2.9"/>
<circle cx="1482.50" cy="1767.50" r="4.1" stroke-width="2.9"/>
<circle cx="1492.50" cy="1782.50" r="4.1" stroke-width="2.9"/>
<circle cx="1503.00" cy="1797.50" r="4.1" stroke-width="2.9"/>
<circle cx="1513.00" cy="1813.00" r="4.1" stroke-width="2.9"/>
<circle cx="1519.75" cy="1828.50" r="4.1" stroke-width="2.9"/>
<circle cx="1526.75" cy="1843.75" r="4.1" stroke-width="2.9"/>
<circle cx="1533.50" cy="1859.25" r="4.1" stroke-width="2.9"/>
<circle cx="1540.50" cy="1884.75" r="4.1" stroke-width="2.9"/>
<circle cx="1547.25" cy="1910.25" r="4.1" stroke-width="2.9"/>
<circle cx="1554.00" cy="1936.00" r="4.1" stroke-width="2.9"/>
<circle cx="1560.75" cy="1961.00" r="4.1" stroke-width="2.9"/>
<circle cx="1567.75" cy="1986.75" r="4.1" stroke-width="2.9"/>
<path d="M1117.60 1613.70L1124.40 1620.50M1117.60 1620.50L1124.40 1613.70" stroke-width="2.5"/>
<path d="M1151.60 1618.20L1158.40 1625.00M1151.60 1625.00L1158.40 1618.20" stroke-width="2.5"/>
<path d="M1185.85 1623.20L1192.65 1630.00M1185.85 1630.00L1192.65 1623.20" stroke-width="2.5"/>
<path d="M1220.10 1631.95L1226.90 1638.75M1220.10 1638.75L1226.90 1631.95" stroke-width="2.5"/>
<path d="M1254.10 1641.20L1260.90 1648.00M1254.10 1648.00L1260.90 1641.20" stroke-width="2.5"/>
<path d="M1288.10 1649.45L1294.90 1656.25M1288.10 1656.25L1294.90 1649.45" stroke-width="2.5"/>
<path d="M1322.60 1657.45L1329.40 1664.25M1322.60 1664.25L1329.40 1657.45" stroke-width="2.5"/>
<path d="M1352.85 1667.70L1359.65 1674.50M1352.85 1674.50L1359.65 1667.70" stroke-width="2.5"/>
<path d="M1369.85 1676.20L1376.65 1683.00M1369.85 1683.00L1376.65 1676.20" stroke-width="2.5"/>
<path d="M1386.85 1689.95L1393.65 1696.75M1386.85 1696.75L1393.65 1689.95" stroke-width="2.5"/>
<path d="M1403.85 1703.20L1410.65 1710.00M1403.85 1710.00L1410.65 1703.20" stroke-width="2.5"/>
<path d="M1420.85 1716.70L1427.65 1723.50M1420.85 1723.50L1427.65 1716.70" stroke-width="2.5"/>
<path d="M1434.60 1730.70L1441.40 1737.50M1434.60 1737.50L1441.40 1730.70" stroke-width="2.5"/>
<path d="M1448.10 1744.20L1454.90 1751.00M1448.10 1751.00L1454.90 1744.20" stroke-width="2.5"/>
<path d="M1458.35 1757.45L1465.15 1764.25M1458.35 1764.25L1465.15 1757.45" stroke-width="2.5"/>
<path d="M1468.60 1775.20L1475.40 1782.00M1468.60 1782.00L1475.40 1775.20" stroke-width="2.5"/>
<path d="M1478.85 1792.70L1485.65 1799.50M1478.85 1799.50L1485.65 1792.70" stroke-width="2.5"/>
<path d="M1489.10 1815.45L1495.90 1822.25M1489.10 1822.25L1495.90 1815.45" stroke-width="2.5"/>
<path d="M1499.35 1837.95L1506.15 1844.75M1499.35 1844.75L1506.15 1837.95" stroke-width="2.5"/>
<path d="M1509.60 1860.45L1516.40 1867.25M1509.60 1867.25L1516.40 1860.45" stroke-width="2.5"/>
<path d="M1516.35 1882.95L1523.15 1889.75M1516.35 1889.75L1523.15 1882.95" stroke-width="2.5"/>
<path d="M1523.35 1905.45L1530.15 1912.25M1523.35 1912.25L1530.15 1905.45" stroke-width="2.5"/>
<path d="M1530.10 1927.95L1536.90 1934.75M1530.10 1934.75L1536.90 1927.95" stroke-width="2.5"/>
<circle cx="1083.50" cy="1604.20" r="3.9" fill="#2d2b2c" stroke="none"/>
<circle cx="1121.00" cy="1609.00" r="3.9" fill="#2d2b2c" stroke="none"/>
<circle cx="1155.00" cy="1619.10" r="3.9" fill="#2d2b2c" stroke="none"/>
<circle cx="1189.25" cy="1623.80" r="3.9" fill="#2d2b2c" stroke="none"/>
<circle cx="1223.50" cy="1634.10" r="3.9" fill="#2d2b2c" stroke="none"/>
<circle cx="1257.50" cy="1639.10" r="3.9" fill="#2d2b2c" stroke="none"/>
<circle cx="1284.75" cy="1649.10" r="3.9" fill="#2d2b2c" stroke="none"/>
<circle cx="1302.00" cy="1654.10" r="3.9" fill="#2d2b2c" stroke="none"/>
<circle cx="1319.00" cy="1664.10" r="3.9" fill="#2d2b2c" stroke="none"/>
<circle cx="1336.00" cy="1674.10" r="3.9" fill="#2d2b2c" stroke="none"/>
<circle cx="1353.00" cy="1684.60" r="3.9" fill="#2d2b2c" stroke="none"/>
<circle cx="1370.00" cy="1699.60" r="3.9" fill="#2d2b2c" stroke="none"/>
<circle cx="1383.50" cy="1714.60" r="3.9" fill="#2d2b2c" stroke="none"/>
<circle cx="1397.00" cy="1729.10" r="3.9" fill="#2d2b2c" stroke="none"/>
<circle cx="1410.75" cy="1744.10" r="3.9" fill="#2d2b2c" stroke="none"/>
<circle cx="1424.50" cy="1759.10" r="3.9" fill="#2d2b2c" stroke="none"/>
<circle cx="1438.00" cy="1773.85" r="3.9" fill="#2d2b2c" stroke="none"/>
<circle cx="1448.25" cy="1788.85" r="3.9" fill="#2d2b2c" stroke="none"/>
<circle cx="1458.50" cy="1803.60" r="3.9" fill="#2d2b2c" stroke="none"/>
<circle cx="1468.75" cy="1828.85" r="3.9" fill="#2d2b2c" stroke="none"/>
<circle cx="1479.00" cy="1853.60" r="3.9" fill="#2d2b2c" stroke="none"/>
<circle cx="1489.25" cy="1879.10" r="3.9" fill="#2d2b2c" stroke="none"/>
<circle cx="1496.00" cy="1904.10" r="3.9" fill="#2d2b2c" stroke="none"/>
<circle cx="1502.75" cy="1929.35" r="3.9" fill="#2d2b2c" stroke="none"/>
<circle cx="1509.75" cy="1953.85" r="3.9" fill="#2d2b2c" stroke="none"/>
<path d="M1065.50 1568.25H1074.50M1070.00 1563.75V1572.75" stroke-width="2.5"/>
<path d="M1099.50 1573.25H1108.50M1104.00 1568.75V1577.75" stroke-width="2.5"/>
<path d="M1133.50 1583.50H1142.50M1138.00 1579.00V1588.00" stroke-width="2.5"/>
<path d="M1167.50 1588.50H1176.50M1172.00 1584.00V1593.00" stroke-width="2.5"/>
<path d="M1184.75 1598.75H1193.75M1189.25 1594.25V1603.25" stroke-width="2.5"/>
<path d="M1201.75 1604.00H1210.75M1206.25 1599.50V1608.50" stroke-width="2.5"/>
<path d="M1219.00 1614.00H1228.00M1223.50 1609.50V1618.50" stroke-width="2.5"/>
<path d="M1236.00 1619.00H1245.00M1240.50 1614.50V1623.50" stroke-width="2.5"/>
<path d="M1253.00 1629.00H1262.00M1257.50 1624.50V1633.50" stroke-width="2.5"/>
<path d="M1270.00 1633.75H1279.00M1274.50 1629.25V1638.25" stroke-width="2.5"/>
<path d="M1287.00 1644.25H1296.00M1291.50 1639.75V1648.75" stroke-width="2.5"/>
<path d="M1304.25 1649.25H1313.25M1308.75 1644.75V1653.75" stroke-width="2.5"/>
<path d="M1318.00 1658.75H1327.00M1322.50 1654.25V1663.25" stroke-width="2.5"/>
<path d="M1331.50 1674.50H1340.50M1336.00 1670.00V1679.00" stroke-width="2.5"/>
<path d="M1345.00 1690.00H1354.00M1349.50 1685.50V1694.50" stroke-width="2.5"/>
<path d="M1358.50 1705.25H1367.50M1363.00 1700.75V1709.75" stroke-width="2.5"/>
<path d="M1372.25 1720.50H1381.25M1376.75 1716.00V1725.00" stroke-width="2.5"/>
<path d="M1385.75 1740.50H1394.75M1390.25 1736.00V1745.00" stroke-width="2.5"/>
<path d="M1399.25 1760.75H1408.25M1403.75 1756.25V1765.25" stroke-width="2.5"/>
<path d="M1409.50 1781.00H1418.50M1414.00 1776.50V1785.50" stroke-width="2.5"/>
<path d="M1419.75 1801.25H1428.75M1424.25 1796.75V1805.75" stroke-width="2.5"/>
<path d="M1430.00 1827.00H1439.00M1434.50 1822.50V1831.50" stroke-width="2.5"/>
<path d="M1440.25 1852.00H1449.25M1444.75 1847.50V1856.50" stroke-width="2.5"/>
<path d="M1447.25 1877.50H1456.25M1451.75 1873.00V1882.00" stroke-width="2.5"/>
<path d="M1454.00 1902.50H1463.00M1458.50 1898.00V1907.00" stroke-width="2.5"/>
<path d="M1460.75 1928.00H1469.75M1465.25 1923.50V1932.50" stroke-width="2.5"/>
<path d="M1467.50 1953.25H1476.50M1472.00 1948.75V1957.75" stroke-width="2.5"/>
<path d="M1056.25 1498.95L1057.65 1502.32L1061.29 1502.61L1058.52 1504.99L1059.37 1508.54L1056.25 1506.63L1053.13 1508.54L1053.98 1504.99L1051.21 1502.61L1054.85 1502.32Z" stroke-width="2.7"/>
<path d="M1090.50 1504.95L1091.90 1508.32L1095.54 1508.61L1092.77 1510.99L1093.62 1514.54L1090.50 1512.63L1087.38 1514.54L1088.23 1510.99L1085.46 1508.61L1089.10 1508.32Z" stroke-width="2.7"/>
<path d="M1124.50 1510.45L1125.90 1513.82L1129.54 1514.11L1126.77 1516.49L1127.62 1520.04L1124.50 1518.13L1121.38 1520.04L1122.23 1516.49L1119.46 1514.11L1123.10 1513.82Z" stroke-width="2.7"/>
<path d="M1158.50 1521.70L1159.90 1525.07L1163.54 1525.36L1160.77 1527.74L1161.62 1531.29L1158.50 1529.38L1155.38 1531.29L1156.23 1527.74L1153.46 1525.36L1157.10 1525.07Z" stroke-width="2.7"/>
<path d="M1192.75 1533.20L1194.15 1536.57L1197.79 1536.86L1195.02 1539.24L1195.87 1542.79L1192.75 1540.88L1189.63 1542.79L1190.48 1539.24L1187.71 1536.86L1191.35 1536.57Z" stroke-width="2.7"/>
<path d="M1227.00 1544.70L1228.40 1548.07L1232.04 1548.36L1229.27 1550.74L1230.12 1554.29L1227.00 1552.38L1223.88 1554.29L1224.73 1550.74L1221.96 1548.36L1225.60 1548.07Z" stroke-width="2.7"/>
<path d="M1244.00 1555.95L1245.40 1559.32L1249.04 1559.61L1246.27 1561.99L1247.12 1565.54L1244.00 1563.63L1240.88 1565.54L1241.73 1561.99L1238.96 1559.61L1242.60 1559.32Z" stroke-width="2.7"/>
<path d="M1261.00 1567.20L1262.40 1570.57L1266.04 1570.86L1263.27 1573.24L1264.12 1576.79L1261.00 1574.88L1257.88 1576.79L1258.73 1573.24L1255.96 1570.86L1259.60 1570.57Z" stroke-width="2.7"/>
<path d="M1278.00 1578.45L1279.40 1581.82L1283.04 1582.11L1280.27 1584.49L1281.12 1588.04L1278.00 1586.13L1274.88 1588.04L1275.73 1584.49L1272.96 1582.11L1276.60 1581.82Z" stroke-width="2.7"/>
<path d="M1295.00 1589.70L1296.40 1593.07L1300.04 1593.36L1297.27 1595.74L1298.12 1599.29L1295.00 1597.38L1291.88 1599.29L1292.73 1595.74L1289.96 1593.36L1293.60 1593.07Z" stroke-width="2.7"/>
<path d="M1312.00 1601.20L1313.40 1604.57L1317.04 1604.86L1314.27 1607.24L1315.12 1610.79L1312.00 1608.88L1308.88 1610.79L1309.73 1607.24L1306.96 1604.86L1310.60 1604.57Z" stroke-width="2.7"/>
<path d="M1329.25 1612.45L1330.65 1615.82L1334.29 1616.11L1331.52 1618.49L1332.37 1622.04L1329.25 1620.13L1326.13 1622.04L1326.98 1618.49L1324.21 1616.11L1327.85 1615.82Z" stroke-width="2.7"/>
<path d="M1346.00 1623.95L1347.40 1627.32L1351.04 1627.61L1348.27 1629.99L1349.12 1633.54L1346.00 1631.63L1342.88 1633.54L1343.73 1629.99L1340.96 1627.61L1344.60 1627.32Z" stroke-width="2.7"/>
<path d="M1359.75 1634.70L1361.15 1638.07L1364.79 1638.36L1362.02 1640.74L1362.87 1644.29L1359.75 1642.38L1356.63 1644.29L1357.48 1640.74L1354.71 1638.36L1358.35 1638.07Z" stroke-width="2.7"/>
<path d="M1373.50 1652.20L1374.90 1655.57L1378.54 1655.86L1375.77 1658.24L1376.62 1661.79L1373.50 1659.88L1370.38 1661.79L1371.23 1658.24L1368.46 1655.86L1372.10 1655.57Z" stroke-width="2.7"/>
<path d="M1387.25 1668.95L1388.65 1672.32L1392.29 1672.61L1389.52 1674.99L1390.37 1678.54L1387.25 1676.63L1384.13 1678.54L1384.98 1674.99L1382.21 1672.61L1385.85 1672.32Z" stroke-width="2.7"/>
<path d="M1401.00 1697.20L1402.40 1700.57L1406.04 1700.86L1403.27 1703.24L1404.12 1706.79L1401.00 1704.88L1397.88 1706.79L1398.73 1703.24L1395.96 1700.86L1399.60 1700.57Z" stroke-width="2.7"/>
<path d="M1414.50 1725.20L1415.90 1728.57L1419.54 1728.86L1416.77 1731.24L1417.62 1734.79L1414.50 1732.88L1411.38 1734.79L1412.23 1731.24L1409.46 1728.86L1413.10 1728.57Z" stroke-width="2.7"/>
<path d="M1424.75 1753.95L1426.15 1757.32L1429.79 1757.61L1427.02 1759.99L1427.87 1763.54L1424.75 1761.63L1421.63 1763.54L1422.48 1759.99L1419.71 1757.61L1423.35 1757.32Z" stroke-width="2.7"/>
<path d="M1431.50 1782.20L1432.90 1785.57L1436.54 1785.86L1433.77 1788.24L1434.62 1791.79L1431.50 1789.88L1428.38 1791.79L1429.23 1788.24L1426.46 1785.86L1430.10 1785.57Z" stroke-width="2.7"/>
<path d="M1438.25 1810.20L1439.65 1813.57L1443.29 1813.86L1440.52 1816.24L1441.37 1819.79L1438.25 1817.88L1435.13 1819.79L1435.98 1816.24L1433.21 1813.86L1436.85 1813.57Z" stroke-width="2.7"/>
<path d="M1445.00 1838.95L1446.40 1842.32L1450.04 1842.61L1447.27 1844.99L1448.12 1848.54L1445.00 1846.63L1441.88 1848.54L1442.73 1844.99L1439.96 1842.61L1443.60 1842.32Z" stroke-width="2.7"/>
<path d="M1451.75 1867.70L1453.15 1871.07L1456.79 1871.36L1454.02 1873.74L1454.87 1877.29L1451.75 1875.38L1448.63 1877.29L1449.48 1873.74L1446.71 1871.36L1450.35 1871.07Z" stroke-width="2.7"/>
<path d="M1458.50 1896.20L1459.90 1899.57L1463.54 1899.86L1460.77 1902.24L1461.62 1905.79L1458.50 1903.88L1455.38 1905.79L1456.23 1902.24L1453.46 1899.86L1457.10 1899.57Z" stroke-width="2.7"/>
<path d="M1465.25 1924.45L1466.65 1927.82L1470.29 1928.11L1467.52 1930.49L1468.37 1934.04L1465.25 1932.13L1462.13 1934.04L1462.98 1930.49L1460.21 1928.11L1463.85 1927.82Z" stroke-width="2.7"/>
<rect x="1002.1" y="1453.6" width="681.9" height="539.9000000000001" stroke-width="3.4" stroke-linejoin="miter"/>
<path d="M1172 1453.6v16M1172 1993.5v-16M1343 1453.6v16M1343 1993.5v-16M1513 1453.6v16M1513 1993.5v-16M1002.1 1633.7h16M1684 1633.7h-16M1002.1 1813.6h16M1684 1813.6h-16" stroke-width="2.6" stroke-linecap="butt"/>
<circle cx="629.50" cy="93.40" r="6.5" stroke-width="3.5"/>
<path d="M622.80 119.20L629.50 106.80L636.20 119.20Z" stroke-width="3.4"/>
<path d="M623.10 135.70H635.90M629.50 129.30V142.10" stroke-width="3.5"/>
<path d="M629.50 147.80L635.00 157.10L629.50 166.40L624.00 157.10Z" stroke-width="3.3"/>
<text x="650.8" y="100.8" font-size="21.9" text-anchor="start" style="stroke-width:0.35px">460 nm</text>
<text x="650.8" y="122.6" font-size="21.9" text-anchor="start" style="stroke-width:0.35px">500 nm</text>
<text x="650.8" y="144.1" font-size="21.9" text-anchor="start" style="stroke-width:0.35px">570 nm</text>
<text x="650.8" y="165.5" font-size="21.9" text-anchor="start" style="stroke-width:0.35px">635 nm</text>
<circle cx="1493.20" cy="102.80" r="6.5" stroke-width="3.5"/>
<path d="M1486.50 128.20L1493.20 115.80L1499.90 128.20Z" stroke-width="3.4"/>
<path d="M1486.80 144.60H1499.60M1493.20 138.20V151.00" stroke-width="3.5"/>
<path d="M1493.20 156.40L1498.70 165.70L1493.20 175.00L1487.70 165.70Z" stroke-width="3.3"/>
<text x="1510.2" y="110.4" font-size="21.8" text-anchor="start" style="stroke-width:0.35px">460 nm</text>
<text x="1510.2" y="131.3" font-size="21.8" text-anchor="start" style="stroke-width:0.35px">500 nm</text>
<text x="1510.2" y="152.4" font-size="21.8" text-anchor="start" style="stroke-width:0.35px">570 nm</text>
<text x="1510.2" y="173.5" font-size="21.8" text-anchor="start" style="stroke-width:0.35px">635 nm</text>
<circle cx="679.20" cy="795.70" r="6.9" stroke-width="2.6"/>
<path d="M672.70 820.55L679.20 809.65L685.70 820.55Z" stroke-width="2.5"/>
<path d="M672.60 838.60H685.80M679.20 832.00V845.20" stroke-width="2.5"/>
<path d="M679.20 850.70L684.70 859.90L679.20 869.10L673.70 859.90Z" stroke-width="2.5"/>
<text x="697.6" y="805" font-size="22" text-anchor="start" style="stroke-width:0.35px">460 nm</text>
<text x="697.6" y="826.7" font-size="22" text-anchor="start" style="stroke-width:0.35px">500 nm</text>
<text x="697.6" y="848" font-size="22" text-anchor="start" style="stroke-width:0.35px">570 nm</text>
<text x="697.6" y="869.5" font-size="22" text-anchor="start" style="stroke-width:0.35px">635 nm</text>
<circle cx="1495.80" cy="802.90" r="6.9" stroke-width="2.6"/>
<path d="M1489.30 827.45L1495.80 816.55L1502.30 827.45Z" stroke-width="2.5"/>
<path d="M1489.20 844.80H1502.40M1495.80 838.20V851.40" stroke-width="2.5"/>
<path d="M1495.80 856.70L1501.30 865.90L1495.80 875.10L1490.30 865.90Z" stroke-width="2.5"/>
<text x="1509.9" y="812" font-size="21.8" text-anchor="start" style="stroke-width:0.35px">460 nm</text>
<text x="1509.9" y="833.6" font-size="21.8" text-anchor="start" style="stroke-width:0.35px">500 nm</text>
<text x="1509.9" y="854.8" font-size="21.8" text-anchor="start" style="stroke-width:0.35px">570 nm</text>
<text x="1509.9" y="876.4" font-size="21.8" text-anchor="start" style="stroke-width:0.35px">635 nm</text>
<circle cx="617.20" cy="1511.30" r="6.9" stroke-width="2.6"/>
<path d="M612.30 1528.10L622.10 1537.90M612.30 1537.90L622.10 1528.10" stroke-width="2.6"/>
<circle cx="617.20" cy="1554.20" r="4.9" fill="#2d2b2c" stroke="none"/>
<path d="M610.40 1575.20H624.00M617.20 1568.40V1582.00" stroke-width="2.4"/>
<path d="M618.30 1591.30L620.42 1596.39L625.91 1596.83L621.72 1600.41L623.00 1605.77L618.30 1602.90L613.60 1605.77L614.88 1600.41L610.69 1596.83L616.18 1596.39Z" stroke-width="2.7"/>
<text x="631" y="1521.8" font-size="21.5" text-anchor="start" style="stroke-width:0.34px" letter-spacing="0.33">11oba pure</text>
<text x="631" y="1545.5" font-size="21.5" text-anchor="start" style="stroke-width:0.34px" letter-spacing="0.33">11oba mix 1</text>
<text x="631" y="1564.6" font-size="21.5" text-anchor="start" style="stroke-width:0.34px" letter-spacing="0.33">11oba mix 2</text>
<text x="631" y="1586.4" font-size="21.5" text-anchor="start" style="stroke-width:0.34px" letter-spacing="0.33">11oba mix 3</text>
<text x="631" y="1607.5" font-size="21.5" text-anchor="start" style="stroke-width:0.34px" letter-spacing="0.33">11oba mix 4</text>
<circle cx="1485.00" cy="1506.40" r="6.9" stroke-width="2.6"/>
<path d="M1480.10 1523.50L1489.90 1533.30M1480.10 1533.30L1489.90 1523.50" stroke-width="2.6"/>
<circle cx="1485.00" cy="1550.30" r="4.9" fill="#2d2b2c" stroke="none"/>
<path d="M1478.20 1572.00H1491.80M1485.00 1565.20V1578.80" stroke-width="2.4"/>
<path d="M1485.00 1585.30L1487.12 1590.39L1492.61 1590.83L1488.42 1594.41L1489.70 1599.77L1485.00 1596.90L1480.30 1599.77L1481.58 1594.41L1477.39 1590.83L1482.88 1590.39Z" stroke-width="2.7"/>
<text x="1498.5" y="1515.4" font-size="21.5" text-anchor="start" style="stroke-width:0.34px" letter-spacing="0.33">11oba pure</text>
<text x="1498.5" y="1538.5" font-size="21.5" text-anchor="start" style="stroke-width:0.34px" letter-spacing="0.33">11oba mix 1</text>
<text x="1498.5" y="1558" font-size="21.5" text-anchor="start" style="stroke-width:0.34px" letter-spacing="0.33">11oba mix 2</text>
<text x="1498.5" y="1579.7" font-size="21.5" text-anchor="start" style="stroke-width:0.34px" letter-spacing="0.33">11oba mix 3</text>
<text x="1498.5" y="1600.7" font-size="21.5" text-anchor="start" style="stroke-width:0.34px" letter-spacing="0.33">11oba mix 4</text>
</g>
<text x="115" y="50" font-size="30.5" text-anchor="end" style="stroke-width:0.49px">0.16</text>
<text x="115" y="181.2" font-size="30.5" text-anchor="end" style="stroke-width:0.49px">0.14</text>
<text x="115" y="313.2" font-size="30.5" text-anchor="end" style="stroke-width:0.49px">0.12</text>
<text x="115" y="444.5" font-size="30.5" text-anchor="end" style="stroke-width:0.49px">0.10</text>
<text x="115" y="576" font-size="30.5" text-anchor="end" style="stroke-width:0.49px">0.08</text>
<text x="134.5" y="609.5" font-size="30.5" text-anchor="middle" style="stroke-width:0.49px">400</text>
<text x="363.5" y="609.5" font-size="30.5" text-anchor="middle" style="stroke-width:0.49px">405</text>
<text x="593.5" y="609.5" font-size="30.5" text-anchor="middle" style="stroke-width:0.49px">410</text>
<text x="822.5" y="609.5" font-size="30.5" text-anchor="middle" style="stroke-width:0.49px">415</text>
<text x="478" y="657.5" font-size="30.5" text-anchor="middle" style="stroke-width:0.49px">Temperature (K)</text>
<text x="475" y="22.5" font-size="30" text-anchor="middle" style="stroke-width:0.48px">12oba mix 1</text>
<text transform="translate(37.4 302.7) rotate(-90)" font-size="29.5" text-anchor="middle" style="stroke-width:0.47px">δn</text>
<text x="-2" y="67" font-size="43" text-anchor="start" font-weight="bold">g</text>
<text x="985.7" y="67.1" font-size="30.5" text-anchor="end" style="stroke-width:0.49px">0.16</text>
<text x="985.7" y="194.9" font-size="30.5" text-anchor="end" style="stroke-width:0.49px">0.14</text>
<text x="985.7" y="324" font-size="30.5" text-anchor="end" style="stroke-width:0.49px">0.12</text>
<text x="985.7" y="453" font-size="30.5" text-anchor="end" style="stroke-width:0.49px">0.10</text>
<text x="985.7" y="580.5" font-size="30.5" text-anchor="end" style="stroke-width:0.49px">0.08</text>
<text x="1000.3" y="609.6" font-size="30.5" text-anchor="middle" style="stroke-width:0.49px">400</text>
<text x="1227.3" y="609.6" font-size="30.5" text-anchor="middle" style="stroke-width:0.49px">405</text>
<text x="1454.8" y="609.6" font-size="30.5" text-anchor="middle" style="stroke-width:0.49px">410</text>
<text x="1681.5" y="609.6" font-size="30.5" text-anchor="middle" style="stroke-width:0.49px">415</text>
<text x="1343.5" y="657.5" font-size="30.5" text-anchor="middle" style="stroke-width:0.49px">Temperature (K)</text>
<text x="1344.75" y="22.5" font-size="30" text-anchor="middle" style="stroke-width:0.48px">12oba mix 2</text>
<text transform="translate(903 307.7) rotate(-90)" font-size="29.5" text-anchor="middle" style="stroke-width:0.47px">δn</text>
<text x="876.2" y="66.6" font-size="41" text-anchor="start" font-weight="bold">h</text>
<text x="115" y="803.9" font-size="30.5" text-anchor="end" style="stroke-width:0.49px">0.16</text>
<text x="115" y="911.1" font-size="30.5" text-anchor="end" style="stroke-width:0.49px">0.14</text>
<text x="115" y="1018.4" font-size="30.5" text-anchor="end" style="stroke-width:0.49px">0.12</text>
<text x="115" y="1124.8" font-size="30.5" text-anchor="end" style="stroke-width:0.49px">0.10</text>
<text x="115" y="1234" font-size="30.5" text-anchor="end" style="stroke-width:0.49px">0.08</text>
<text x="131" y="1311.8" font-size="30.5" text-anchor="middle" style="stroke-width:0.49px">398</text>
<text x="229.5" y="1311.8" font-size="30.5" text-anchor="middle" style="stroke-width:0.49px">400</text>
<text x="328.5" y="1311.8" font-size="30.5" text-anchor="middle" style="stroke-width:0.49px">402</text>
<text x="427.5" y="1311.8" font-size="30.5" text-anchor="middle" style="stroke-width:0.49px">404</text>
<text x="526.5" y="1311.8" font-size="30.5" text-anchor="middle" style="stroke-width:0.49px">406</text>
<text x="625.5" y="1311.8" font-size="30.5" text-anchor="middle" style="stroke-width:0.49px">408</text>
<text x="724.5" y="1311.8" font-size="30.5" text-anchor="middle" style="stroke-width:0.49px">410</text>
<text x="823" y="1311.8" font-size="30.5" text-anchor="middle" style="stroke-width:0.49px">412</text>
<text x="479" y="1355" font-size="30.5" text-anchor="middle" style="stroke-width:0.49px">Temperature (K)</text>
<text x="290" y="1071" font-size="30.2" text-anchor="start" style="stroke-width:0.48px">12oba mix 3</text>
<text transform="translate(36.5 1009) rotate(-90)" font-size="29.5" text-anchor="middle" style="stroke-width:0.47px">δn</text>
<text x="6" y="763.4" font-size="41" text-anchor="start" font-weight="bold">i</text>
<text x="986" y="763.1" font-size="30.5" text-anchor="end" style="stroke-width:0.49px">0.18</text>
<text x="986" y="850.4" font-size="30.5" text-anchor="end" style="stroke-width:0.49px">0.16</text>
<text x="986" y="937.5" font-size="30.5" text-anchor="end" style="stroke-width:0.49px">0.14</text>
<text x="986" y="1025.4" font-size="30.5" text-anchor="end" style="stroke-width:0.49px">0.12</text>
<text x="986" y="1112.4" font-size="30.5" text-anchor="end" style="stroke-width:0.49px">0.10</text>
<text x="986" y="1200" font-size="30.5" text-anchor="end" style="stroke-width:0.49px">0.08</text>
<text x="986" y="1287" font-size="30.5" text-anchor="end" style="stroke-width:0.49px">0.06</text>
<text x="1004" y="1311.2" font-size="30.5" text-anchor="middle" style="stroke-width:0.49px">395</text>
<text x="1230" y="1311.2" font-size="30.5" text-anchor="middle" style="stroke-width:0.49px">400</text>
<text x="1456" y="1311.2" font-size="30.5" text-anchor="middle" style="stroke-width:0.49px">405</text>
<text x="1681" y="1311.2" font-size="30.5" text-anchor="middle" style="stroke-width:0.49px">410</text>
<text x="1343" y="1355" font-size="30.5" text-anchor="middle" style="stroke-width:0.49px">Temperature (K)</text>
<text x="1292.5" y="737.5" font-size="30" text-anchor="middle" style="stroke-width:0.48px">12oba mix 4</text>
<text transform="translate(903.3 1016.5) rotate(-90)" font-size="29.5" text-anchor="middle" style="stroke-width:0.47px">δn</text>
<text x="884" y="763.6" font-size="41.5" text-anchor="start" font-weight="bold">j</text>
<text x="114" y="1468.9" font-size="30.5" text-anchor="end" style="stroke-width:0.49px">0.25</text>
<text x="114" y="1647" font-size="30.5" text-anchor="end" style="stroke-width:0.49px">0.20</text>
<text x="114" y="1824" font-size="30.5" text-anchor="end" style="stroke-width:0.49px">0.15</text>
<text x="114" y="2001.5" font-size="30.5" text-anchor="end" style="stroke-width:0.49px">0.10</text>
<text x="126" y="2028.8" font-size="30.5" text-anchor="middle" style="stroke-width:0.49px">395</text>
<text x="299.5" y="2028.8" font-size="30.5" text-anchor="middle" style="stroke-width:0.49px">400</text>
<text x="472.5" y="2028.8" font-size="30.5" text-anchor="middle" style="stroke-width:0.49px">405</text>
<text x="645.5" y="2028.8" font-size="30.5" text-anchor="middle" style="stroke-width:0.49px">410</text>
<text x="819.5" y="2028.8" font-size="30.5" text-anchor="middle" style="stroke-width:0.49px">415</text>
<text x="476.75" y="2074.5" font-size="30.5" text-anchor="middle" style="stroke-width:0.49px">Temperature (K)</text>
<text x="121.5" y="1444.7" font-size="29.3" text-anchor="start" style="stroke-width:0.47px" textLength="724.5" lengthAdjust="spacing">11oba with dispersed citrate capped Au nanoparticles</text>
<text x="237.5" y="1891" font-size="30.3" text-anchor="start" style="stroke-width:0.48px">460 nm</text>
<text transform="translate(37 1726.1) rotate(-90)" font-size="29.5" text-anchor="middle" style="stroke-width:0.47px">δn</text>
<text x="0" y="1462.2" font-size="41" text-anchor="start" font-weight="bold">k</text>
<text x="987.5" y="1462" font-size="30.5" text-anchor="end" style="stroke-width:0.49px">0.25</text>
<text x="987.5" y="1641.9" font-size="30.5" text-anchor="end" style="stroke-width:0.49px">0.20</text>
<text x="987.5" y="1821.4" font-size="30.5" text-anchor="end" style="stroke-width:0.49px">0.15</text>
<text x="987.5" y="2001" font-size="30.5" text-anchor="end" style="stroke-width:0.49px">0.10</text>
<text x="1001" y="2028.8" font-size="30.5" text-anchor="middle" style="stroke-width:0.49px">395</text>
<text x="1172" y="2028.8" font-size="30.5" text-anchor="middle" style="stroke-width:0.49px">400</text>
<text x="1343" y="2028.8" font-size="30.5" text-anchor="middle" style="stroke-width:0.49px">405</text>
<text x="1513" y="2028.8" font-size="30.5" text-anchor="middle" style="stroke-width:0.49px">410</text>
<text x="1683.5" y="2028.8" font-size="30.5" text-anchor="middle" style="stroke-width:0.49px">415</text>
<text x="1343.5" y="2074.5" font-size="30.5" text-anchor="middle" style="stroke-width:0.49px">Temperature (K)</text>
<text x="987" y="1436.2" font-size="29.3" text-anchor="start" style="stroke-width:0.47px" textLength="725" lengthAdjust="spacing">11oba with dispersed citrate capped Au nanoparticles</text>
<text x="1104.5" y="1918.2" font-size="30.5" text-anchor="start" style="stroke-width:0.49px">500 nm</text>
<text transform="translate(911 1718.9) rotate(-90)" font-size="29.5" text-anchor="middle" style="stroke-width:0.47px">δn</text>
<text x="882.8" y="1462" font-size="41.7" text-anchor="start" font-weight="bold">l</text>
</svg>
</body></html>
